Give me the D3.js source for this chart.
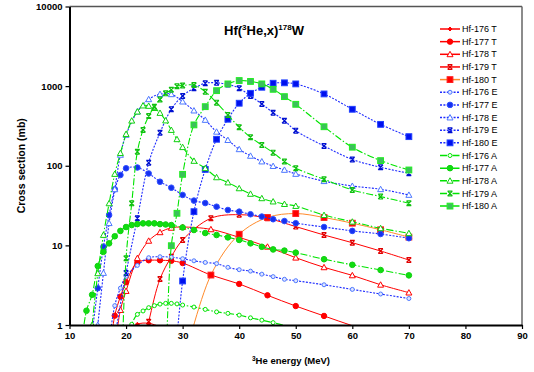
<!DOCTYPE html>
<html><head><meta charset="utf-8">
<script src="https://cdn.jsdelivr.net/npm/d3@7"></script>
<style>
body{margin:0;background:#fff}
svg{display:block}
text{font-family:Arial,"Liberation Sans",sans-serif}
</style>
</head><body>
<svg id="chart" width="534" height="372"></svg>
<script>
// ---- data: [energy MeV, cross section mb] ----
const hf176T = [[18,0.3],[20,0.75],[22,1.02],[24,1.05],[26,0.95],[28,0.85],[30,0.75],[35,0.55],[40,0.42],[45,0.32],[50,0.25],[55,0.2],[60,0.16],[65,0.13],[70,0.1]];
const hf177T = [[17,0.4],[18,1.31],[19,2.27],[20,3.44],[22,6.1],[24,6.5],[26,6.5],[28,6.4],[30,6.0],[35,4.24],[40,3.28],[45,2.36],[50,1.73],[55,1.30],[60,0.98],[65,0.76],[70,0.58]];
const hf178T = [[18,0.5],[19,1.54],[20,2.67],[22,6.9],[24,11.4],[26,14.6],[28,16.6],[30,17.0],[35,15.9],[40,12.6],[45,9.6],[50,7.0],[55,5.3],[60,4.2],[65,3.2],[70,2.55]];
const hf179T = [[22,0.25],[24,1.1],[26,3.78],[28,7.2],[30,11.7],[35,21.9],[40,24.3],[45,21.9],[50,17.2],[55,13.5],[60,10.8],[65,8.5],[70,6.55]];
const hf180T = [[30,0.3],[35,4.24],[40,13.8],[45,22.4],[50,25.1],[55,22.4],[60,19.0],[65,15.7],[70,12.7]];

const hf176E = [[17,0.6],[18,1.75],[19,2.9],[20,4.1],[22,5.6],[24,7.0],[26,7.2],[28,7.1],[30,6.8],[32,6.4],[34,6.1],[36,5.9],[38,5.3],[40,4.95],[42,4.75],[44,4.35],[46,4.05],[48,3.75],[50,3.6],[55,3.2],[60,2.8],[65,2.45],[70,2.15]];
const hf177E = [[14,0.8],[15,2.9],[16,9.6],[17,24],[18,50.6],[19,76.6],[20,93],[22,95],[24,80],[26,63],[28,53],[30,43],[32,36.5],[34,34],[36,30.6],[38,27.8],[40,26.5],[42,24.6],[44,23],[46,21.3],[48,20.2],[50,19],[55,17],[60,15.2],[65,13.9],[70,12.3]];
const hf178E = [[15,1.0],[16,4.5],[17,19],[18,50.6],[19,137],[20,244],[22,478],[24,684],[26,795],[28,790],[30,639],[32,493],[34,376],[36,267],[38,210],[40,161],[42,133],[44,113],[46,99],[48,88.6],[50,78.9],[55,64],[60,55.7],[65,50.7],[70,43]];
const hf179E = [[18,0.7],[20,4.5],[22,21.9],[24,109],[26,260],[28,512],[30,753],[32,941],[34,1087],[36,1100],[38,1050],[40,940],[42,753],[44,597],[46,464],[48,368],[50,276],[55,177],[60,120],[65,95.6],[70,80.5]];
const hf180E = [[28,0.1],[30,3.57],[32,26.5],[34,90],[36,215],[38,384],[40,610],[42,812],[44,968],[46,1087],[48,1100],[50,1066],[55,798],[60,512],[65,331],[70,232]];

const hf176A = [[20,0.4],[21,1.02],[22,1.36],[23,1.5],[24,1.65],[25,1.75],[26,1.83],[27,1.87],[28,1.87],[29,1.84],[30,1.78],[32,1.68],[34,1.57],[36,1.46],[38,1.4],[40,1.33],[42,1.23],[44,1.15],[46,1.07],[48,0.99],[50,0.92],[55,0.8],[60,0.68],[65,0.6],[70,0.52]];
const hf177A = [[12,0.5],[13,1.51],[14,2.4],[15,5.5],[16,8.3],[17,10.6],[18,13],[19,15.2],[20,17],[21,18],[22,18.5],[23,18.9],[24,18.9],[25,18.9],[26,18.5],[27,18.3],[28,18],[30,16.8],[32,15.6],[34,14.3],[36,13.5],[38,12.6],[40,11.7],[42,10.6],[44,9.6],[46,8.9],[48,8.6],[50,8.1],[55,6.7],[60,5.7],[65,4.9],[70,4.2]];
const hf178A = [[14,1.0],[15,4.46],[16,13.5],[17,33.7],[18,78.8],[19,144],[20,250],[21,368],[22,478],[23,570],[24,564],[25,530],[26,460],[27,370],[28,281],[29,215],[30,171],[32,115],[34,93],[36,71.5],[38,61.6],[40,52],[42,44.3],[44,39],[46,35.5],[48,33],[50,31.2],[55,24],[60,19.8],[65,16.4],[70,14.2]];
const hf179A = [[19,0.06],[20,6.9],[21,33.7],[22,150],[23,282],[24,420],[25,550],[26,680],[27,811],[28,900],[29,1000],[30,1020],[32,1030],[34,850],[36,620],[38,434],[40,305],[42,228],[44,182],[46,146],[48,113],[50,93],[55,67.6],[60,49.7],[65,41],[70,33.8]];
const hf180A = [[27,0.2],[28,9.9],[29,25.3],[30,78],[32,326],[34,552],[36,877],[38,1066],[40,1175],[42,1145],[44,1066],[46,912],[48,738],[50,591],[55,309],[60,171],[65,116],[70,88.5]];

const seriesNames = ["Hf-176 T","Hf-177 T","Hf-178 T","Hf-179 T","Hf-180 T",
                     "Hf-176 E","Hf-177 E","Hf-178 E","Hf-179 E","Hf-180 E",
                     "Hf-176 A","Hf-177 A","Hf-178 A","Hf-179 A","Hf-180 A"];
const seriesData = [hf176T,hf177T,hf178T,hf179T,hf180T,hf176E,hf177E,hf178E,hf179E,hf180E,hf176A,hf177A,hf178A,hf179A,hf180A];
const xTicks = [10,20,30,40,50,60,70,80,90];
const yTicks = [1,10,100,1000,10000];
const yTickLabels = ["1","10","100","1000","10000"];

// ---- styles ----
const RED="#ff0000", ORANGE="#ff8a2a", BLUE="#1f2cff", LBLUE="#4d78ff", GREEN="#00e400";
const lineStyles = {
  T:{color:RED, dash:null, width:1},
  E:{color:BLUE, dash:"2,1.4", width:1.1},
  A:{color:GREEN, dash:"7,2,1.5,2", width:1.1}
};
const markerStyles = [
  {t:"diamond", stroke:RED, fill:RED, s:2},
  {t:"circle", stroke:RED, fill:RED, s:2.7},
  {t:"triangle", stroke:RED, fill:"#fff", s:3},
  {t:"star", stroke:"#e00000", s:2.4},
  {t:"square", stroke:"#ff2020", fill:"#ff0000", s:2.9},
  {t:"circle", stroke:LBLUE, fill:"#dfe6ff", s:2},
  {t:"circle", stroke:"#3050ff", fill:"#1530f0", s:2.8},
  {t:"triangle", stroke:LBLUE, fill:"#fff", s:3},
  {t:"star", stroke:"#0010d0", s:2.4},
  {t:"square", stroke:"#2040ff", fill:"#0010ee", s:2.9},
  {t:"circle", stroke:GREEN, fill:"#fff", s:2},
  {t:"circle", stroke:"#10d010", fill:"#10dd10", s:2.8},
  {t:"triangle", stroke:"#10d010", fill:"#fff", s:3},
  {t:"star", stroke:"#10c010", s:2.4},
  {t:"square", stroke:"#20ee20", fill:"#3cbf5c", s:2.9}
];

const svg = d3.select("#chart");
const L=69.5, R=522, T=6.5, B=325;
const x = d3.scaleLinear().domain([10,90]).range([L,R]);
const y = d3.scaleLog().domain([1,10000]).range([B,T]);

svg.append("defs").append("clipPath").attr("id","plotclip")
  .append("rect").attr("x",L).attr("y",T).attr("width",R-L).attr("height",B-T);

function drawMarker(g, m, cx, cy){
  const s=m.s;
  if(m.t==="circle"){
    g.append("circle").attr("cx",cx).attr("cy",cy).attr("r",s)
      .attr("fill",m.fill).attr("stroke",m.stroke).attr("stroke-width",1);
  } else if(m.t==="square"){
    g.append("rect").attr("x",cx-s).attr("y",cy-s).attr("width",2*s).attr("height",2*s)
      .attr("fill",m.fill).attr("stroke",m.stroke).attr("stroke-width",1);
  } else if(m.t==="triangle"){
    g.append("path").attr("d",`M${cx},${cy-s}L${cx+s},${cy+s*0.8}L${cx-s},${cy+s*0.8}Z`)
      .attr("fill",m.fill).attr("stroke",m.stroke).attr("stroke-width",1);
  } else if(m.t==="diamond"){
    g.append("path").attr("d",`M${cx},${cy-s}L${cx+s},${cy}L${cx},${cy+s}L${cx-s},${cy}Z`)
      .attr("fill",m.fill).attr("stroke",m.stroke).attr("stroke-width",1);
  } else if(m.t==="star"){
    g.append("path").attr("d",`M${cx-s},${cy-s}L${cx+s},${cy+s}M${cx-s},${cy+s}L${cx+s},${cy-s}M${cx-s},${cy-s}L${cx+s},${cy-s}M${cx-s},${cy+s}L${cx+s},${cy+s}`)
      .attr("fill","none").attr("stroke",m.stroke).attr("stroke-width",1.2);
  }
}

function lineStyleFor(i){
  const k = seriesNames[i].slice(-1);
  const st = Object.assign({}, lineStyles[k]);
  if(i===4) st.color = ORANGE;
  return st;
}

// ---- series ----
const plot = svg.append("g").attr("clip-path","url(#plotclip)");
const lineGen = d3.line().x(d=>x(d[0])).y(d=>y(d[1])).curve(d3.curveCatmullRom.alpha(0.5));
seriesData.forEach((data,i)=>{
  const st = lineStyleFor(i);
  const g = plot.append("g");
  g.append("path").attr("d",lineGen(data)).attr("fill","none")
    .attr("stroke",st.color).attr("stroke-width",st.width)
    .attr("stroke-dasharray",st.dash);
  data.filter(d=>d[1]>=1).forEach(d=>drawMarker(g, markerStyles[i], x(d[0]), y(d[1])));
});

// ---- frame & axes ----
svg.append("line").attr("x1",L).attr("x2",R).attr("y1",T).attr("y2",T).attr("stroke","#555").attr("stroke-width",1.5);
svg.append("line").attr("x1",R).attr("x2",R).attr("y1",T).attr("y2",B).attr("stroke","#666").attr("stroke-width",1.5);

const xAxis = svg.append("g").attr("transform",`translate(0,${B})`)
  .call(d3.axisBottom(x).tickValues(xTicks).tickSize(4).tickSizeOuter(0).tickFormat(d3.format("d")));
const yAxis = svg.append("g").attr("transform",`translate(${L},0)`)
  .call(d3.axisLeft(y).tickValues(yTicks).tickSize(4).tickSizeOuter(0).tickFormat((d,i)=>yTickLabels[i]));
[xAxis,yAxis].forEach(a=>{
  a.select(".domain").attr("stroke","#000").attr("stroke-width",2);
  a.selectAll(".tick line").attr("stroke","#000").attr("stroke-width",1.2);
  a.selectAll(".tick text").attr("font-family","Arial, 'Liberation Sans', sans-serif")
    .attr("font-size",9.5).attr("font-weight","bold").attr("fill","#000");
});
xAxis.selectAll(".tick text").attr("dy","0.71em").attr("y",7);
yAxis.selectAll(".tick text").attr("x",-7);

// ---- titles ----
const title = svg.append("text").attr("x",264).attr("y",35).attr("text-anchor","middle")
  .attr("font-size",13).attr("font-weight","bold").attr("fill","#000");
title.append("tspan").text("Hf(");
title.append("tspan").attr("font-size",8).attr("dy",-5).text("3");
title.append("tspan").attr("dy",5).text("He,x)");
title.append("tspan").attr("font-size",8).attr("dy",-5).text("178");
title.append("tspan").attr("dy",5).text("W");

const xt = svg.append("text").attr("x",291).attr("y",364).attr("text-anchor","middle")
  .attr("font-size",9.5).attr("font-weight","bold").attr("fill","#000");
xt.append("tspan").attr("font-size",6.5).attr("dy",-3.5).text("3");
xt.append("tspan").attr("dy",3.5).text("He energy (MeV)");

svg.append("text").attr("transform",`translate(25,${(T+B)/2}) rotate(-90)`)
  .attr("text-anchor","middle").attr("font-size",10.5).attr("font-weight","bold")
  .attr("fill","#000").text("Cross section (mb)");

// ---- legend ----
const leg = svg.append("g");
seriesNames.forEach((name,i)=>{
  const ly = 29 + i*12.65;
  const st = lineStyleFor(i);
  leg.append("line").attr("x1",440).attr("x2",460).attr("y1",ly).attr("y2",ly)
    .attr("stroke",st.color).attr("stroke-width",1.5).attr("stroke-dasharray",st.dash);
  drawMarker(leg, markerStyles[i], 450, ly);
  leg.append("text").attr("x",462).attr("y",ly).attr("dy","0.35em")
    .attr("font-size",9).attr("fill","#000").text(name);
});
</script>
</body></html>
